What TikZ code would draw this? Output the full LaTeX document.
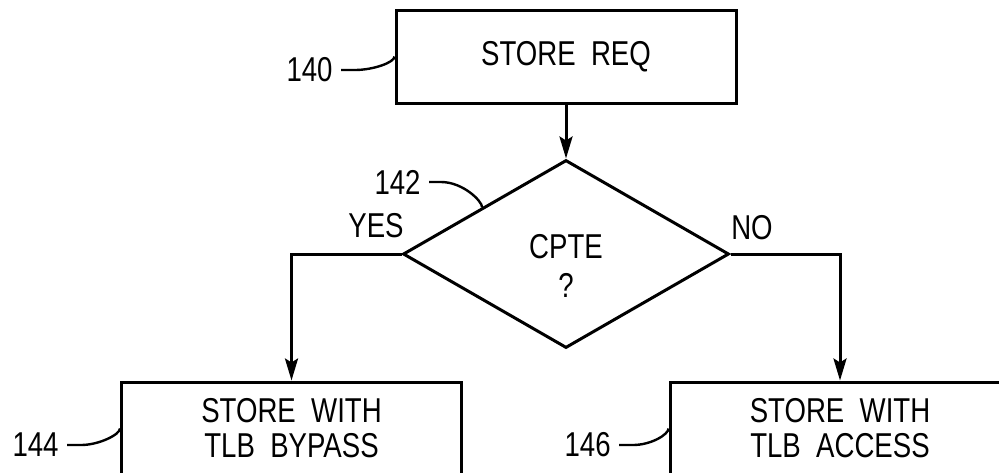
\documentclass[tikz,border=0pt]{standalone}
\usepackage{fontspec}
\setmainfont{Liberation Sans}[FakeStretch=0.8, WordSpace=2]
\usetikzlibrary{shapes.geometric,arrows.meta,calc}

\tikzset{
  box/.style={draw, line width=1.5pt, minimum width=170pt, minimum height=46.5pt,
    inner sep=0pt, align=center},
  decision/.style={draw, diamond, line width=1.5pt, minimum width=163pt,
    minimum height=94pt, inner sep=0pt},
  flow/.style={line width=1.5pt, -{Stealth[length=11pt,width=6.5pt,inset=2pt]}},
  leader/.style={line width=1.2pt},
  refnum/.style={inner sep=0pt}
}

\begin{document}
\begin{tikzpicture}[x=0.5pt, y=-0.5pt,
    font=\fontsize{17.25}{17.5}\selectfont]

    \useasboundingbox (0,0) rectangle (999,472);
    \clip (0,0) rectangle (999,472);

    \node[box] (req) at (566,56.5) {STORE REQ};
    \node[decision] (cpte) at (566,254) {};
    \node[box] (bypass) at (291.5,428.5) {STORE WITH\\TLB BYPASS};
    \node[box] (access) at (840,428.5) {STORE WITH\\TLB ACCESS};

    \node[align=center, font=\fontsize{17.25}{19.5}\selectfont] (cptetxt) at (566,265.5) {CPTE\\?};

    \node (yes) at (376,226) {YES};
    \node (no) at (752,228) {NO};

    \draw[flow] (req) -- (cpte);
    \draw[flow] (cpte.west) -| (bypass.north);
    \draw[flow] (cpte.east) -| (access.north);

    \node[refnum, anchor=east] (r140) at (333,70) {140};
    \node[refnum, anchor=east] (r142) at (421,182) {142};
    \node[refnum, anchor=east] (r144) at (59,445) {144};
    \node[refnum, anchor=east] (r146) at (611,445) {146};

    \coordinate (edge142) at ($(cpte.west)!0.49!(cpte.north)$);

    \draw[leader] ([xshift=4pt]r140.east) -- ++(14,0)
        .. controls +(18,0) and +(0,6) .. (req.west);
    \draw[leader] ([xshift=4pt]r142.east) -- ++(12,0)
        .. controls +(22,0) and +(0,-6) .. (edge142);
    \draw[leader] ([xshift=4pt]r144.east) -- ++(14,0)
        .. controls +(18,0) and +(0,6) .. (bypass.west);
    \draw[leader] ([xshift=4pt]r146.east) -- ++(14,0)
        .. controls +(18,0) and +(0,6) .. (access.west);

\end{tikzpicture}
\end{document}
